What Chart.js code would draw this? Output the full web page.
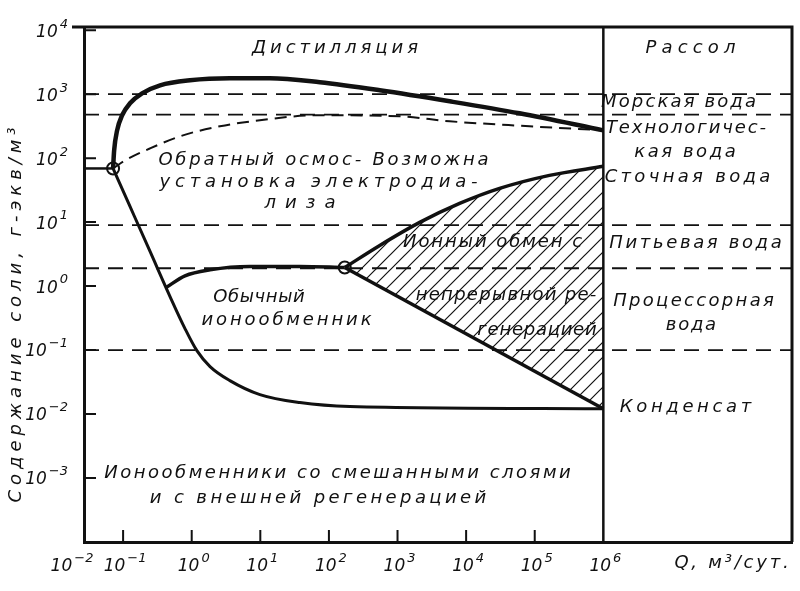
<!DOCTYPE html>
<html>
<head>
<meta charset="utf-8">
<script src="https://cdn.jsdelivr.net/npm/chart.js@4.4.0/dist/chart.umd.min.js"></script>
<style>
  html, body { margin: 0; background: #fff; }
</style>
</head>
<body>
<canvas id="chart" width="800" height="591"></canvas>
<script>
// axis limits (log decades), 10^-2 label sits at the corner like in the book figure
const xMin = Math.pow(10, -1.57), xMax = Math.pow(10, 8.75);
const yMin = 1e-4, yMax = Math.pow(10, 4.05);

const xTicks = [1e-1, 1, 1e1, 1e2, 1e3, 1e4, 1e5, 1e6];
const yTicks = [1e-3, 1e-2, 1e-1, 1, 1e1, 1e2, 1e3, 1e4];

// distillation upper limit
const distQ = [0.0714, 0.074, 0.0818, 0.0967, 0.126, 0.189, 0.346, 0.945, 3.6, 13.8, 73.7, 551, 5754, 60100, 1e6];
const distC = [69, 132, 272, 468, 721, 1032, 1377, 1651, 1774, 1774, 1535, 1151, 774, 502, 272];

// reverse osmosis / electrodialysis limit (dashed)
const roQ = [0.0714, 0.107, 0.247, 0.746, 2.58, 9.87, 66.7, 1076, 5754, 84000, 1e6];
const roC = [69, 92, 142, 227, 315, 391, 468, 451, 377, 315, 272];

// short line from the axis to the first node
const leftQ = [xMin, 0.0714];
const leftC = [69, 69];

// lower limit: mixed-bed ion exchangers
const mixQ = [0.0714, 0.126, 0.247, 0.483, 0.798, 1.19, 1.85, 3.6, 9.87, 37.7, 201, 1e6];
const mixC = [69, 17.6, 3.48, 0.687, 0.217, 0.098, 0.0552, 0.0333, 0.0201, 0.0151, 0.0131, 0.0121];

// ordinary ion exchanger upper limit
const ordQ = [0.423, 0.798, 1.85, 7.06, 37.7, 170];
const ordC = [0.95, 1.45, 1.80, 2.03, 2.03, 1.95];

// ion exchange with continuous regeneration (hatched)
const contUpQ = [170, 551, 2104, 8035, 30760, 164000, 1e6];
const contUpC = [1.95, 4.32, 9.9, 19.6, 33.7, 53.8, 74.5];
const contLoQ = [170, 1e6];
const contLoC = [1.95, 0.0121];

// nodes (open circles)
const nodeQ = [0.0714, 170];
const nodeC = [69, 1.95];

// water class boundaries (dashed horizontals)
const levels = [1000, 480, 9, 1.9, 0.1];
const dividerQ = 1e6;

function pts(xs, ys) { return xs.map((x, i) => ({ x: x, y: ys[i] })); }
function expOf(v) { return Math.round(Math.log10(v)); }

// hatch pattern
function hatch() {
  const c = document.createElement('canvas');
  c.width = 15; c.height = 15;
  const g = c.getContext('2d');
  g.strokeStyle = '#111';
  g.lineWidth = 1.2;
  g.beginPath();
  g.moveTo(-1, 16); g.lineTo(16, -1);
  g.moveTo(-1, 1); g.lineTo(1, -1);
  g.moveTo(14, 16); g.lineTo(16, 14);
  g.stroke();
  return g.createPattern(c, 'repeat');
}

const ink = '#111';
const fontTxt = 'italic 18px "DejaVu Sans"';

const datasets = [];
levels.forEach(v => datasets.push({
  data: [{ x: xMin, y: v }, { x: xMax, y: v }],
  borderColor: ink, borderWidth: 1.8, borderDash: [15, 9], pointRadius: 0, fill: false
}));
datasets.push({ data: pts(contUpQ, contUpC), borderColor: ink, borderWidth: 3.5, pointRadius: 0,
  cubicInterpolationMode: 'monotone', fill: { target: '+1' }, backgroundColor: hatch() });
datasets.push({ data: pts(contLoQ, contLoC), borderColor: ink, borderWidth: 3.5, pointRadius: 0, tension: 0, fill: false });
datasets.push({ data: pts(distQ, distC), borderColor: ink, borderWidth: 4.5, pointRadius: 0, cubicInterpolationMode: 'monotone', fill: false });
datasets.push({ data: pts(roQ, roC), borderColor: ink, borderWidth: 2, borderDash: [12, 7], pointRadius: 0, cubicInterpolationMode: 'monotone', fill: false });
datasets.push({ data: pts(leftQ, leftC), borderColor: ink, borderWidth: 2.5, pointRadius: 0, fill: false });
datasets.push({ data: pts(mixQ, mixC), borderColor: ink, borderWidth: 3, pointRadius: 0, cubicInterpolationMode: 'monotone', fill: false });
datasets.push({ data: pts(ordQ, ordC), borderColor: ink, borderWidth: 3.5, pointRadius: 0, cubicInterpolationMode: 'monotone', fill: false });
datasets.push({ data: pts(nodeQ, nodeC), showLine: false, pointRadius: 6, pointBorderWidth: 2,
  pointBackgroundColor: '#fff', pointBorderColor: ink });

function fitText(ctx, txt, cx, cy, w) {
  ctx.letterSpacing = '0px';
  const nat = ctx.measureText(txt).width;
  const sp = (w - nat) / txt.length;
  ctx.letterSpacing = sp + 'px';
  ctx.fillText(txt, cx + sp / 2, cy);
  ctx.letterSpacing = '0px';
}

// "10" with raised exponent; anchor: 'right' or 'center'
function powLabel(ctx, e, x, y, anchor) {
  const base = 'italic 17px "DejaVu Sans"', ex = 'italic 13px "DejaVu Sans"';
  const es = String(e).replace('-', '−');
  ctx.font = base; const wb = ctx.measureText('10').width;
  ctx.font = ex; const we = ctx.measureText(es).width;
  const gap = 2, tot = wb + gap + we;
  const x0 = anchor === 'right' ? x - tot : x - tot / 2;
  ctx.textAlign = 'left';
  ctx.font = base; ctx.fillText('10', x0, y);
  ctx.font = ex; ctx.fillText(es, x0 + wb + gap, y - 8);
}

// [text, x1, x2, y]
const labels = [
  ['Дистилляция', 250, 420, 48],
  ['Рассол', 643, 738, 48],
  ['Морская вода', 600, 757, 102],
  ['Технологичес-', 605, 767, 128],
  ['кая вода', 633, 737, 152],
  ['Сточная вода', 603, 772, 177],
  ['Питьевая вода', 608, 783, 243],
  ['Процессорная', 612, 775, 301],
  ['вода', 665, 717, 325],
  ['Конденсат', 618, 753, 407],
  ['Обратный осмос- Возможна', 157, 490, 160],
  ['установка электродиа-', 157, 480, 182],
  ['лиза', 260, 340, 203],
  ['Ионный обмен с', 402, 583, 242],
  ['непрерывной ре-', 415, 597, 295],
  ['генерацией', 477, 597, 330],
  ['Обычный', 213, 305, 297],
  ['ионообменник', 200, 373, 320],
  ['Ионообменники со смешанными слоями', 103, 572, 473],
  ['и с внешней регенерацией', 148, 488, 498],
  ['Q, м³/сут.', 673, 790, 563]
];

const decor = {
  id: 'decor',
  afterDatasetsDraw(chart) {
    const ctx = chart.ctx, a = chart.chartArea, sx = chart.scales.x, sy = chart.scales.y;
    ctx.save();
    ctx.strokeStyle = ink;
    ctx.lineCap = 'butt';
    // frame top and right
    ctx.lineWidth = 3;
    ctx.beginPath();
    ctx.moveTo(a.left - 12, a.top); ctx.lineTo(a.right, a.top); ctx.lineTo(a.right, a.bottom);
    ctx.stroke();
    // divider at 10^6
    const xd = sx.getPixelForValue(dividerQ);
    ctx.lineWidth = 2.5;
    ctx.beginPath(); ctx.moveTo(xd, a.top); ctx.lineTo(xd, a.bottom); ctx.stroke();
    // inner tick marks
    ctx.lineWidth = 2;
    ctx.beginPath();
    yTicks.forEach(v => { const y = sy.getPixelForValue(v); ctx.moveTo(a.left, y); ctx.lineTo(a.left + 12, y); });
    xTicks.slice(0, -1).forEach(v => { const x = sx.getPixelForValue(v); ctx.moveTo(x, a.bottom); ctx.lineTo(x, a.bottom - 12); });
    ctx.stroke();
    // tick labels
    ctx.fillStyle = ink;
    ctx.textBaseline = 'middle';
    yTicks.forEach(v => powLabel(ctx, expOf(v), a.left - 16, sy.getPixelForValue(v) + 2, 'right'));
    xTicks.forEach(v => powLabel(ctx, expOf(v), sx.getPixelForValue(v) + 2, a.bottom + 25, 'center'));
    powLabel(ctx, -2, 72, a.bottom + 25, 'center');
    // texts
    ctx.font = fontTxt;
    ctx.textAlign = 'center';
    labels.forEach(l => fitText(ctx, l[0], (l[1] + l[2]) / 2, l[3], l[2] - l[1]));
    // y title
    ctx.translate(16, 315);
    ctx.rotate(-Math.PI / 2);
    fitText(ctx, 'Содержание соли, г-экв/м³', 0, 0, 380);
    ctx.restore();
  }
};

new Chart(document.getElementById('chart'), {
  type: 'line',
  data: { datasets: datasets },
  plugins: [decor],
  options: {
    responsive: false,
    animation: false,
    layout: { padding: { top: 27, right: 7, left: 0, bottom: 0 } },
    plugins: { legend: { display: false }, tooltip: { enabled: false } },
    scales: {
      x: {
        type: 'logarithmic', min: xMin, max: xMax,
        grid: { display: false },
        border: { display: true, color: ink, width: 3 },
        afterBuildTicks: s => { s.ticks = xTicks.map(v => ({ value: v })); },
        afterFit: s => { s.height = 49; },
        ticks: { display: false }
      },
      y: {
        type: 'logarithmic', min: yMin, max: yMax,
        grid: { display: false },
        border: { display: true, color: ink, width: 3 },
        afterBuildTicks: s => { s.ticks = yTicks.map(v => ({ value: v })); },
        afterFit: s => { s.width = 84; },
        ticks: { display: false }
      }
    }
  }
});
</script>
</body>
</html>
